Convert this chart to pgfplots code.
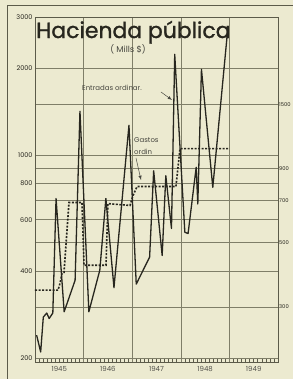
\documentclass[border=0pt]{standalone}
\usepackage{fontspec}
\setmainfont{Poppins}
\newfontfamily\titlefont[FakeBold=1.2]{Poppins}
\usepackage{pgfplots}
\pgfplotsset{compat=1.18}
\definecolor{paper}{HTML}{ECEAD0}
\definecolor{ink}{HTML}{27261E}
\definecolor{gridc}{HTML}{7F7E68}
\begin{document}
\begin{tikzpicture}[x=1bp,y=1bp]
\path[use as bounding box, fill=paper] (0,0) rectangle (293,379);
\draw[gridc!60!ink, line width=0.6bp] (7,0) -- (7,374) -- (293,374);
\begin{axis}[
 at={(35bp,17bp)}, anchor=south west, scale only axis,
 width=243bp, height=345bp,
 xmin=0, xmax=60, ymode=log, ymin=194, ymax=3000,
 axis line style={gridc!60!ink, line width=0.6bp},
 xtick={12,24,36,48}, xticklabels={},
 minor xtick={1,2,3,4,5,6,7,8,9,10,11,13,14,15,16,17,18,19,20,21,22,23,25,26,27,28,29,30,31,32,33,34,35,37,38,39,40,41,42,43,44,45,46,47,49,50,51,52,53,54,55,56,57,58,59},
 minor tick length=2.5bp, major tick length=0pt,
 minor tick style={gridc!60!ink, line width=0.5bp},
 xtick pos=left, ytick pos=left,
 ytick={200,300,400,500,600,700,800,900,1000,1500,2000,3000},
 yticklabels={200,,400,,600,,800,,1000,,2000,3000},
 minor ytick={},
 yticklabel style={font=\fontsize{6.5}{7}\selectfont, text=ink, xshift=1bp},
 xmajorgrids, ymajorgrids,
 major grid style={gridc, line width=0.55bp},
 extra x ticks={6,18,30,42,54},
 extra x tick labels={1945,1946,1947,1948,1949},
 extra x tick style={grid=none, major tick length=0pt, xticklabel style={font=\fontsize{7}{8}\selectfont, text=ink!80, yshift=-0.5bp}},
 /pgf/number format/assume math mode=true,
 clip=false,
]
\addplot[ink, line width=1.3bp, line join=round] coordinates {
 (0.4,240) (1.4,210) (2.05,277) (2.9,286) (3.5,274) (4.4,286) (5.2,710)
 (7.2,289) (9.9,371) (11.1,1420) (13.3,289) (16.0,402) (17.5,710)
 (19.5,350) (23.2,1270) (25.0,360) (28.3,446) (29.3,885) (31.4,452)
 (32.3,851) (33.7,560) (34.5,2230) (37.0,543) (37.8,538) (39.8,910)
 (40.2,680) (41.1,1980) (43.9,776) (47.6,2730)
};
\addplot[ink, line width=1.6bp, dash pattern=on 2bp off 1.5bp] coordinates {
 (0,343) (5.68,343) (6.17,362) (6.67,392) (7.16,395) (8.39,688) (11.6,688)
 (12.1,418) (17.53,418) (18.0,682) (23.45,672) (24.2,727) (25.2,781)
 (34.8,781) (35.8,1055) (47.9,1055)
};
\node[anchor=west, inner sep=1bp, font=\fontsize{5.2}{6}\selectfont, text=ink] at (axis cs:60,1500) {1500};
\node[anchor=west, inner sep=1bp, font=\fontsize{5.2}{6}\selectfont, text=ink] at (axis cs:60,900) {900};
\node[anchor=west, inner sep=1bp, font=\fontsize{5.2}{6}\selectfont, text=ink] at (axis cs:60,700) {700};
\node[anchor=west, inner sep=1bp, font=\fontsize{5.2}{6}\selectfont, text=ink] at (axis cs:60,500) {500};
\node[anchor=west, inner sep=1bp, font=\fontsize{5.2}{6}\selectfont, text=ink] at (axis cs:60,300) {300};
\end{axis}
\node[anchor=base west, inner sep=0pt, font=\titlefont\fontsize{22}{24}\selectfont, text=ink] at (36,341) {Hacienda pública};
\node[inner sep=0pt, font=\fontsize{8.5}{10}\selectfont, text=ink!85] at (128,330) {( Mills \$)};
\node[anchor=west, inner sep=0pt, font=\fontsize{7}{8}\selectfont, text=ink!85] at (82,291) {Entradas ordinar.};
\draw[ink!85, line width=0.5bp, -latex] (161,287) -- (172,279);
\node[anchor=west, inner sep=0pt, font=\fontsize{7}{8}\selectfont, text=ink!85] at (134,239) {Gastos};
\node[anchor=west, inner sep=0pt, font=\fontsize{7}{8}\selectfont, text=ink!85] at (134,227) {ordin};
\draw[ink!85, line width=0.5bp, -latex] (136,221) -- (141,199);
\end{tikzpicture}
\end{document}
